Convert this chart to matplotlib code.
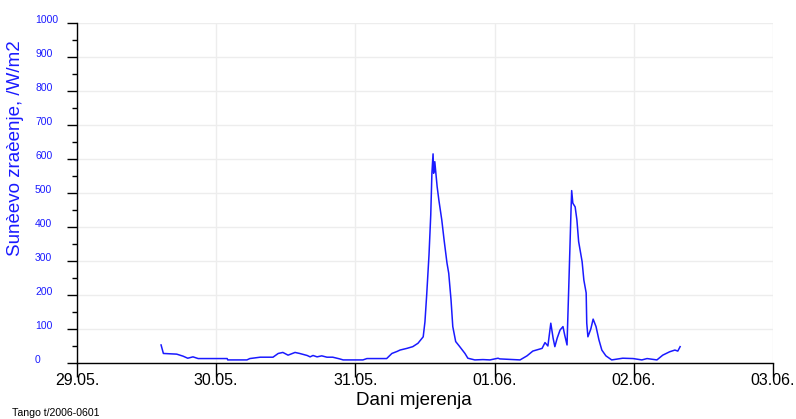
'''
Sunčevo zračenje, 29.05. - 03.06.
'''

import matplotlib
matplotlib.use('Agg')
import matplotlib.pyplot as plt

# Sati od 29.05. 00:00 i izmjereno zračenje (W/m2)
sati = [14.5, 14.9, 17.2, 18.3, 19.1, 20.0, 20.9, 25.9, 26.0, 29.3,
        29.8, 31.6, 33.8, 34.7, 35.5, 36.4, 37.6, 38.4, 39.7, 40.2,
        40.7, 41.4, 42.2, 43.1, 44.1, 45.3, 45.9, 49.3, 50.0, 53.4,
        54.3, 55.2, 55.7, 56.9, 57.9, 58.8, 59.7, 60.0, 60.3, 60.7,
        61.0, 61.2, 61.4, 61.5, 61.7, 62.1, 62.4, 62.9, 63.3, 63.8,
        64.1, 64.5, 64.8, 65.3, 66.0, 66.9, 67.4, 68.6, 70.0, 71.2,
        72.6, 72.9, 76.4, 77.6, 78.6, 80.2, 80.7, 81.2, 81.7, 82.1,
        82.4, 82.8, 83.3, 83.8, 84.1, 84.5, 84.6, 84.8, 85.2, 85.3,
        85.5, 85.9, 86.2, 86.5, 87.1, 87.4, 87.8, 87.9, 88.1, 88.6,
        89.0, 89.5, 90.0, 90.5, 91.2, 92.2, 94.1, 95.9, 97.4, 98.3,
        100.0, 101.0, 102.2, 103.1, 103.6, 104.0]
zracenje = [53, 28, 26, 20, 14, 18, 13, 13, 9, 9,
            13, 17, 17, 28, 31, 23, 31, 28, 22, 18,
            22, 18, 21, 17, 17, 12, 9, 9, 13, 13,
            28, 34, 38, 43, 48, 58, 77, 121, 200, 318,
            435, 558, 615, 558, 592, 519, 479, 421, 362, 294,
            264, 185, 107, 63, 48, 28, 14, 9, 10, 9,
            14, 12, 9, 21, 35, 43, 60, 50, 117, 73,
            48, 73, 97, 107, 82, 53, 112, 224, 456, 507,
            470, 459, 421, 357, 298, 244, 206, 117, 77, 100,
            129, 107, 68, 38, 21, 9, 14, 13, 9, 13,
            9, 23, 33, 38, 35, 48]

dani = ['29.05.', '30.05.', '31.05.', '01.06.', '02.06.', '03.06.']

plt.rcParams['font.family'] = ['Liberation Sans', 'DejaVu Sans']

fig = plt.figure(figsize=(7.96, 4.19), dpi=100)
ax = fig.add_axes([0.0967, 0.1337, 0.8743, 0.8115])

ax.plot(sati, zracenje, color='#1a1aff', linewidth=1.1, zorder=3)

ax.set_xlim(0, 120)
ax.set_ylim(0, 1000)

# osi
ax.set_xticks(range(0, 121, 24))
ax.set_xticklabels(dani, fontsize=11.5)
ax.set_yticks(range(0, 1001, 100))
ax.set_yticks(range(50, 1000, 100), minor=True)
ax.set_yticklabels([str(v) for v in range(0, 1001, 100)], fontsize=7.5,
                   color='#1a1aff')
for lab in ax.get_yticklabels():
    lab.set_horizontalalignment('left')
    lab.set_verticalalignment('baseline')

ax.tick_params(axis='x', direction='out', length=10, width=1.0, pad=-2.5)
ax.tick_params(axis='y', which='major', direction='out', length=7.5,
               width=1.0, pad=22.7)
ax.tick_params(axis='y', which='minor', direction='out', length=3.5,
               width=1.0)

ax.spines['top'].set_visible(False)
ax.spines['right'].set_visible(False)
ax.spines['left'].set_linewidth(1.0)
ax.spines['bottom'].set_linewidth(1.0)

ax.grid(True, which='major', color='#ededed', linewidth=1.0, zorder=0)
ax.set_axisbelow(True)

ax.set_xlabel('Dani mjerenja', fontsize=13.5)
ax.xaxis.set_label_coords(0.4835, -0.085)
ax.set_ylabel('Sunèevo zraèenje, /W/m2', fontsize=13.5, color='#1a1aff')
ax.yaxis.set_label_coords(-0.076, 0.632)

fig.text(0.015, 0.008, 'Tango t/2006-0601', fontsize=7.6)

plt.savefig('out.png', dpi=100)
